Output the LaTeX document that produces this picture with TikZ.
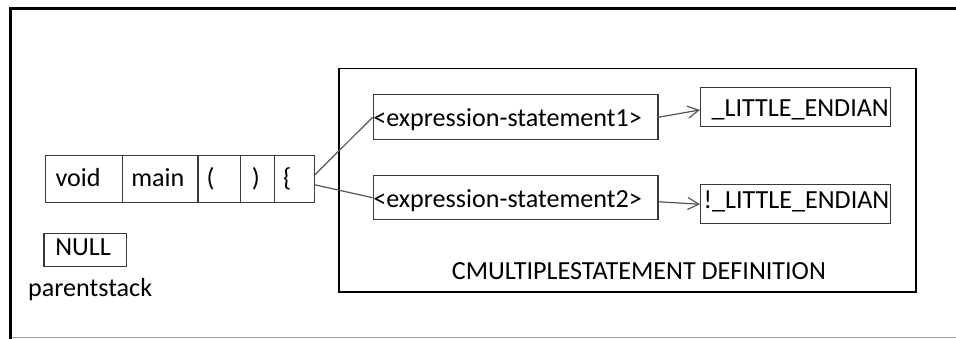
\documentclass[tikz,border=0pt]{standalone}
\usepackage{fontspec}
\setmainfont{Carlito}
\usetikzlibrary{arrows.meta}
\definecolor{boxgray}{HTML}{3A3A3A}
\definecolor{linkgray}{HTML}{555555}
\definecolor{rulegray}{HTML}{9A9A9A}
% fixed-width cell content: width, left padding, text
\newcommand\celltxt[3]{\makebox[#1][l]{\hspace*{#2}#3}}
\begin{document}
\begin{tikzpicture}[x=1pt,y=-1pt,
  every node/.style={font=\fontsize{26.1}{30}\selectfont},
  box/.style={draw=boxgray, line width=1.2pt, inner sep=0pt, anchor=north west},
  link/.style={draw=linkgray, line width=1.2pt},
  arrow/.style={link, -{Straight Barb[length=11pt,width=12pt]}}]
\useasboundingbox (0,0) rectangle (956,339);
% outer frame
\draw[line width=1pt, rulegray] (10.7,337) -- (956,337);
\draw[line width=3pt, black, line join=miter] (956,8.7) -- (10.7,8.7) -- (10.7,339);

% the token row
\node[box, text height=30.7pt, text depth=16.6pt] (void) at (44.7,155) {\celltxt{77pt}{10.3pt}{void}};
\node[box, text height=30.7pt, text depth=16.6pt] (main) at (121.7,155) {\celltxt{75.6pt}{9pt}{main}};
\node[box, text height=30.7pt, text depth=16.6pt] (lpar) at (197.3,155) {\celltxt{42.7pt}{8.6pt}{(}};
\node[box, text height=30.7pt, text depth=16.6pt] (rpar) at (240,155) {\celltxt{34pt}{11.2pt}{)}};
\node[box, text height=30.7pt, text depth=16.6pt] (brace) at (274,155) {\celltxt{39.7pt}{8.5pt}{\{}};

% parent stack
\node[box, text height=22.3pt, text depth=10.7pt] (null) at (43.3,232.7) {\celltxt{82.7pt}{11.4pt}{NULL}};
\node[anchor=base west, inner sep=0pt] (ps) at (28,296) {parentstack};

% definition area
\node[box, draw=black, minimum width=577pt, minimum height=223.6pt] (def) at (338.3,67.7) {};
\node[anchor=base west, inner sep=0pt] (deflabel) at (451.7,279.3) {CMULTIPLESTATEMENT DEFINITION};

\node[box, text height=31.7pt, text depth=13.6pt] (e1) at (372.7,94) {\celltxt{284.6pt}{0pt}{<expression-statement1>}};
\node[box, text height=31.7pt, text depth=12.6pt] (e2) at (372.7,175) {\celltxt{284.6pt}{0pt}{<expression-statement2>}};
\node[box, text height=29.3pt, text depth=10pt] (le1) at (700,86.7) {\celltxt{190pt}{11pt}{\_LITTLE\_ENDIAN}};
\node[box, text height=23.7pt, text depth=15.6pt] (le2) at (700,184) {\celltxt{190pt}{3pt}{!\_LITTLE\_ENDIAN}};

% connectors
\draw[link] ([yshift=4.4pt]brace.east) -- (e1.west);
\draw[link] ([yshift=-5.6pt]brace.east) -- (e2.west);
\draw[arrow] (e1.east) -- ([yshift=-3pt]le1.west);
\draw[arrow] ([yshift=-4pt]e2.east) -- (le2.west);
\end{tikzpicture}
\end{document}
